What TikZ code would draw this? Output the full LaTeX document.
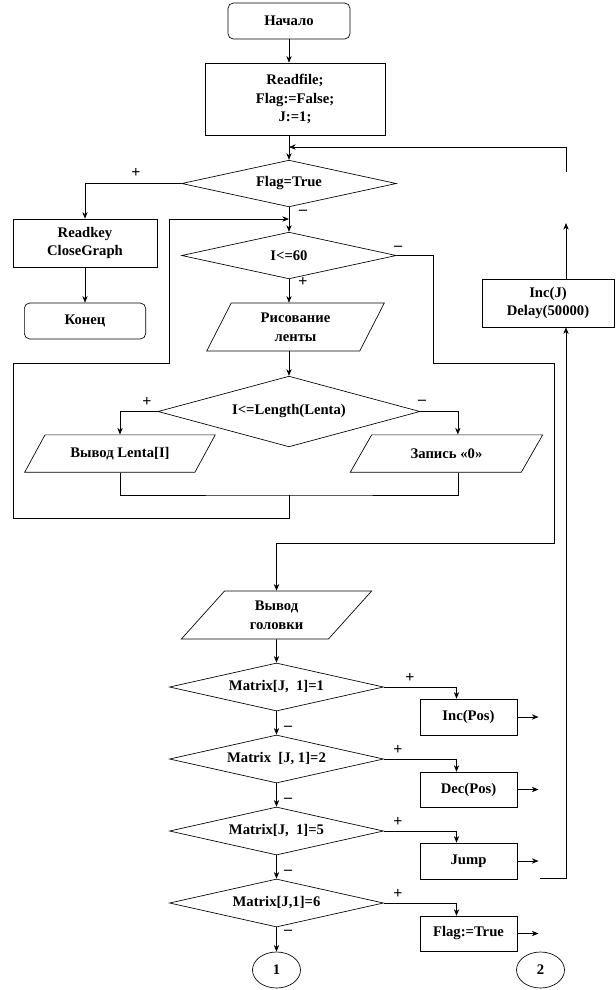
\documentclass[tikz,border=0pt]{standalone}
\usepackage{fontspec}
\setmainfont{Liberation Serif}
\usetikzlibrary{shapes.geometric,arrows.meta}

\begin{document}
\begin{tikzpicture}[x=0.75pt, y=-0.75pt, line width=0.5pt,
    font=\fontsize{11}{14}\selectfont\bfseries,
    term/.style={rectangle, rounded corners=4pt, draw, align=center},
    proc/.style={rectangle, draw, align=center},
    cond/.style={diamond, draw, aspect=4.5, inner sep=0pt, align=center},
    io/.style={trapezium, trapezium stretches=true, draw, inner sep=0pt, align=center},
    conn/.style={ellipse, draw, minimum width=36pt, minimum height=27pt},
    arr/.style={-{Stealth[length=5pt,width=4pt]}},
    sgn/.style={inner sep=0pt, font=\fontsize{12}{14}\selectfont\bfseries}]
    \useasboundingbox (0,0) rectangle (615,990);

    % Nodes
    \node[term, minimum width=91.5pt, minimum height=27pt] (start) at (289,21) {Начало};
    \node[proc, minimum width=135pt, minimum height=54pt] (init) at (295,99) {Readfile;\\Flag:=False;\\J:=1;};
    \node[cond, minimum width=161pt, minimum height=35pt] (flag) at (289,183.5) {Flag=True};
    \node[proc, minimum width=108pt, minimum height=36pt] (rk) at (85,243) {Readkey\\CloseGraph};
    \node[term, minimum width=91pt, minimum height=27pt] (stop) at (85,321) {Конец};
    \node[cond, minimum width=161pt, minimum height=35pt] (i60) at (289,255.5) {I<=60};
    \node[io, trapezium left angle=65, trapezium right angle=115,
          minimum width=134pt, minimum height=36pt] (ris) at (295.5,327) {Рисование\\ленты};
    \node[cond, minimum width=196.5pt, minimum height=53pt] (len) at (289,411.5) {I<=Length(Lenta)};
    \node[io, trapezium left angle=43.5, trapezium right angle=136.5,
          minimum width=144pt, minimum height=28pt] (outl) at (120,453.5) {Вывод Lenta[I]};
    \node[io, trapezium left angle=44, trapezium right angle=136,
          minimum width=145pt, minimum height=28pt] (zero) at (446.5,453.5) {Запись «0»};
    \node[proc, minimum width=99pt, minimum height=36pt] (incj) at (548,303) {Inc(J)\\Delay(50000)};
    \node[io, trapezium left angle=52, trapezium right angle=128,
          minimum width=143pt, minimum height=36pt] (head) at (276.5,615) {Вывод\\головки};
    \node[cond, minimum width=160.5pt, minimum height=36pt] (m1) at (276.5,687) {Matrix[J,\ \ 1]=1};
    \node[cond, minimum width=160.5pt, minimum height=36pt] (m2) at (276.5,759) {Matrix\ \ [J, 1]=2};
    \node[cond, minimum width=160.5pt, minimum height=36pt] (m5) at (276.5,831) {Matrix[J,\ \ 1]=5};
    \node[cond, minimum width=160.5pt, minimum height=36pt] (m6) at (276.5,903) {Matrix[J,1]=6};
    \node[proc, minimum width=73pt, minimum height=27pt] (incp) at (468.5,717) {Inc(Pos)};
    \node[proc, minimum width=73pt, minimum height=26pt] (decp) at (468.5,789.5) {Dec(Pos)};
    \node[proc, minimum width=73pt, minimum height=27pt] (jump) at (468.5,861) {Jump};
    \node[proc, minimum width=73pt, minimum height=26pt] (flagt) at (468.5,933.5) {Flag:=True};
    \node[conn] (c1) at (276.5,970) {1};
    \node[conn] (c2) at (540.5,970) {2};

    % Points
    \coordinate (lp) at (289,219);
    \coordinate (mj) at (289,495);
    \coordinate (ret) at (540,878);
    \coordinate (up1) at (566,223);
    \coordinate (up2) at (566,172);
    \coordinate (fl) at (289,147);

    % Edges
    \draw[arr] (start.south) -- (start.south |- init.north);
    \draw[arr] (flag.north |- init.south) -- (flag.north);
    \draw[arr] (flag.west) -| (rk.north);
    \draw[arr] (rk.south) -- (stop.north);
    \draw[arr] (flag.south) -- (i60.north);
    \draw[arr] (i60.south) -- (i60.south |- ris.north);
    \draw[arr] (i60.south |- ris.south) -- (len.north);
    \draw[arr] (len.west) -| (outl.center |- outl.north);
    \draw[arr] (len.east) -| ([xshift=8.5pt]zero.north);
    \draw (outl.center |- outl.south) |- (mj) -| ([xshift=8.5pt]zero.south);
    \draw[arr] (mj) |- (13,518) |- (169,363) |- (lp);
    \draw[arr] (i60.east) -| (433,363) -| (554,543) -| (head.north);
    \draw[arr] (head.south) -- (m1.north);
    \foreach \a/\b in {m1/m2, m2/m5, m5/m6, m6/c1}
        \draw[arr] (\a.south) -- (\b.north);
    \draw[arr] (m1.east) -| ([xshift=-9pt]incp.north);
    \draw[arr] (m2.east) -| ([xshift=-9pt]decp.north);
    \draw[arr] (m5.east) -| ([xshift=-9pt]jump.north);
    \draw[arr] (m6.east) -| ([xshift=-9pt]flagt.north);
    \foreach \b in {incp, decp, jump, flagt}
        \draw[arr] (\b.east) -- ++(21,0);
    \draw[arr] (ret) -| ([xshift=13.5pt]incj.south);
    \draw[arr] ([xshift=13.5pt]incj.north) -- (up1);
    \draw[arr] (up2) |- (fl);

    % Labels
    \node[sgn] (p1) at (136,173) {+};
    \node[sgn] (n1) at (303,212) {–};
    \node[sgn] (n2) at (398,248) {–};
    \node[sgn] (p2) at (303,282) {+};
    \node[sgn] (p3) at (147,402) {+};
    \node[sgn] (n3) at (422,402) {–};
    \node[sgn] (p4) at (410,678) {+};
    \node[sgn] (n4) at (288,728) {–};
    \node[sgn] (p5) at (398,750) {+};
    \node[sgn] (n5) at (288,800) {–};
    \node[sgn] (p6) at (398,822) {+};
    \node[sgn] (n6) at (288,872) {–};
    \node[sgn] (p7) at (398,894) {+};
    \node[sgn] (n7) at (288,932) {–};
\end{tikzpicture}
\end{document}
